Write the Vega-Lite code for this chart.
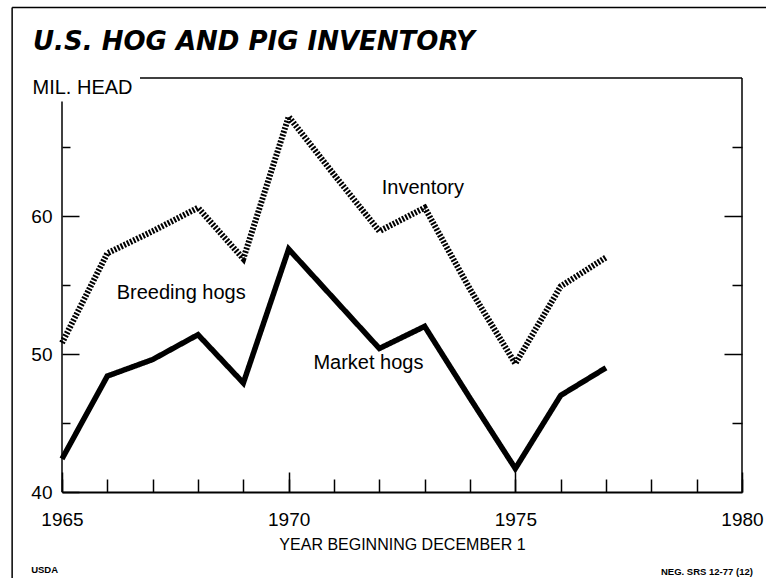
{
  "$schema": "https://vega.github.io/schema/vega-lite/v6.json",
  "width": 680,
  "height": 414,
  "autosize": {"type": "none"},
  "padding": {"left": 62, "top": 78, "right": 24, "bottom": 86},
  "background": "white",
  "title": {
    "text": "U.S. HOG AND PIG INVENTORY",
    "anchor": "start",
    "frame": "group",
    "dx": -29,
    "offset": -69,
    "baseline": "alphabetic",
    "font": "DejaVu Sans",
    "fontSize": 26,
    "fontWeight": "bold",
    "fontStyle": "italic",
    "color": "black"
  },
  "config": {
    "font": "Liberation Sans",
    "view": {"stroke": null},
    "axis": {
      "grid": false,
      "labelColor": "black",
      "tickColor": "black",
      "domainColor": "black",
      "titleColor": "black",
      "labelFont": "Liberation Sans",
      "titleFont": "Liberation Sans"
    }
  },
  "resolve": {"axis": {"y": "independent", "x": "independent"}},
  "layer": [
    {
      "data": {
        "values": [
          {"year": 1965, "series": "Inventory", "value": 50.8},
          {"year": 1966, "series": "Inventory", "value": 57.3},
          {"year": 1967, "series": "Inventory", "value": 58.9},
          {"year": 1968, "series": "Inventory", "value": 60.6},
          {"year": 1969, "series": "Inventory", "value": 56.9},
          {"year": 1970, "series": "Inventory", "value": 67.2},
          {"year": 1971, "series": "Inventory", "value": 63.0},
          {"year": 1972, "series": "Inventory", "value": 58.9},
          {"year": 1973, "series": "Inventory", "value": 60.6},
          {"year": 1974, "series": "Inventory", "value": 54.7},
          {"year": 1975, "series": "Inventory", "value": 49.3},
          {"year": 1976, "series": "Inventory", "value": 54.9},
          {"year": 1977, "series": "Inventory", "value": 57.0},
          {"year": 1965, "series": "Market hogs", "value": 42.4},
          {"year": 1966, "series": "Market hogs", "value": 48.4},
          {"year": 1967, "series": "Market hogs", "value": 49.6},
          {"year": 1968, "series": "Market hogs", "value": 51.4},
          {"year": 1969, "series": "Market hogs", "value": 47.9},
          {"year": 1970, "series": "Market hogs", "value": 57.6},
          {"year": 1971, "series": "Market hogs", "value": 54.0},
          {"year": 1972, "series": "Market hogs", "value": 50.4},
          {"year": 1973, "series": "Market hogs", "value": 52.0},
          {"year": 1974, "series": "Market hogs", "value": 46.8},
          {"year": 1975, "series": "Market hogs", "value": 41.7},
          {"year": 1976, "series": "Market hogs", "value": 47.0},
          {"year": 1977, "series": "Market hogs", "value": 49.0}
        ]
      },
      "mark": {"type": "line", "color": "black", "strokeJoin": "miter"},
      "encoding": {
        "x": {
          "field": "year",
          "type": "quantitative",
          "scale": {"domain": [1965, 1980], "nice": false, "zero": false},
          "axis": {
            "orient": "bottom",
            "values": [1965, 1966, 1967, 1968, 1969, 1970, 1971, 1972, 1973, 1974, 1975, 1976, 1977, 1978, 1979, 1980],
            "format": "d",
            "labelExpr": "datum.value % 5 === 0 ? datum.label : ''",
            "labelFontSize": 19,
            "labelPadding": 31,
            "labelFlush": false,
            "labelOverlap": false,
            "tickSize": -13,
            "tickWidth": 1.5,
            "domain": true,
            "domainWidth": 2,
            "title": "YEAR BEGINNING DECEMBER 1",
            "titleFontSize": 16,
            "titleFontWeight": "normal",
            "titlePadding": 7
          }
        },
        "y": {
          "field": "value",
          "type": "quantitative",
          "scale": {"domain": [40, 70], "nice": false, "zero": false},
          "axis": {
            "orient": "left",
            "values": [40, 45, 50, 55, 60, 65],
            "labelExpr": "datum.value % 10 === 0 ? datum.label : ''",
            "labelFontSize": 19,
            "labelPadding": 27,
            "labelBaseline": "middle",
            "tickSize": {"condition": {"test": "datum.value % 10 === 0", "value": -17}, "value": -8},
            "tickWidth": 1.5,
            "domain": false,
            "title": "MIL. HEAD",
            "titleAngle": 0,
            "titleAlign": "left",
            "titleBaseline": "middle",
            "titleX": -30,
            "titleY": 9.5,
            "titleFontSize": 20,
            "titleFontWeight": "normal"
          }
        },
        "strokeDash": {
          "field": "series",
          "type": "nominal",
          "scale": {"domain": ["Inventory", "Market hogs"], "range": [[2, 1.5], [1, 0]]},
          "legend": null
        },
        "strokeWidth": {
          "field": "series",
          "type": "nominal",
          "scale": {"domain": ["Inventory", "Market hogs"], "range": [6, 5.5]},
          "legend": null
        }
      }
    },
    {
      "data": {"values": [{}]},
      "mark": {"type": "rule", "color": "black", "strokeWidth": 1.5},
      "encoding": {
        "x": {
          "datum": 1980,
          "type": "quantitative",
          "axis": {
            "orient": "bottom",
            "values": [1965, 1970, 1975, 1980],
            "labels": false,
            "domain": false,
            "title": null,
            "tickWidth": 1.5,
            "tickSize": -20
          }
        },
        "y": {
          "datum": 40,
          "type": "quantitative",
          "axis": {
            "orient": "right",
            "values": [45, 50, 55, 60, 65],
            "labels": false,
            "domain": false,
            "title": null,
            "tickWidth": 1.5,
            "tickSize": {"condition": {"test": "datum.value % 10 === 0", "value": -18}, "value": -10}
          }
        },
        "y2": {"datum": 70}
      }
    },
    {
      "data": {"values": [{}]},
      "mark": {"type": "rule", "color": "black", "strokeWidth": 1.5},
      "encoding": {
        "x": {"datum": 1966.72, "type": "quantitative", "axis": null},
        "x2": {"datum": 1980},
        "y": {"datum": 70, "type": "quantitative", "axis": null}
      }
    },
    {
      "data": {"values": [{}]},
      "mark": {"type": "rule", "color": "black", "strokeWidth": 1.5},
      "encoding": {
        "x": {"datum": 1965, "type": "quantitative", "axis": null},
        "y": {"datum": 40, "type": "quantitative", "axis": null},
        "y2": {"datum": 68.3}
      }
    },
    {
      "data": {"values": [{}]},
      "mark": {"type": "rule", "color": "black", "strokeWidth": 1.5},
      "encoding": {
        "x": {"datum": 1963.9, "type": "quantitative", "axis": null},
        "x2": {"datum": 1981},
        "y": {"datum": 75.1, "type": "quantitative", "axis": null}
      }
    },
    {
      "data": {"values": [{}]},
      "mark": {"type": "rule", "color": "black", "strokeWidth": 1.5},
      "encoding": {
        "x": {"datum": 1963.9, "type": "quantitative", "axis": null},
        "y": {"datum": 33.5, "type": "quantitative", "axis": null},
        "y2": {"datum": 75.1}
      }
    },
    {
      "data": {"values": [{}]},
      "mark": {"type": "text", "text": "Inventory", "fontSize": 20, "color": "black", "align": "center", "baseline": "middle"},
      "encoding": {
        "x": {"datum": 1972.96, "type": "quantitative", "axis": null},
        "y": {"datum": 62.0, "type": "quantitative", "axis": null}
      }
    },
    {
      "data": {"values": [{}]},
      "mark": {"type": "text", "text": "Breeding hogs", "fontSize": 20, "color": "black", "align": "center", "baseline": "middle"},
      "encoding": {
        "x": {"datum": 1967.63, "type": "quantitative", "axis": null},
        "y": {"datum": 54.4, "type": "quantitative", "axis": null}
      }
    },
    {
      "data": {"values": [{}]},
      "mark": {"type": "text", "text": "Market hogs", "fontSize": 20, "color": "black", "align": "center", "baseline": "middle"},
      "encoding": {
        "x": {"datum": 1971.76, "type": "quantitative", "axis": null},
        "y": {"datum": 49.35, "type": "quantitative", "axis": null}
      }
    },
    {
      "data": {"values": [{}]},
      "mark": {"type": "text", "text": "USDA", "fontSize": 9.5, "fontWeight": "bold", "color": "black", "align": "left", "baseline": "middle"},
      "encoding": {
        "x": {"datum": 1964.32, "type": "quantitative", "axis": null},
        "y": {"datum": 34.35, "type": "quantitative", "axis": null}
      }
    },
    {
      "data": {"values": [{}]},
      "mark": {"type": "text", "text": "NEG. SRS 12-77 (12)", "fontSize": 9.5, "fontWeight": "bold", "color": "black", "align": "right", "baseline": "middle"},
      "encoding": {
        "x": {"datum": 1980.24, "type": "quantitative", "axis": null},
        "y": {"datum": 34.2, "type": "quantitative", "axis": null}
      }
    }
  ]
}
